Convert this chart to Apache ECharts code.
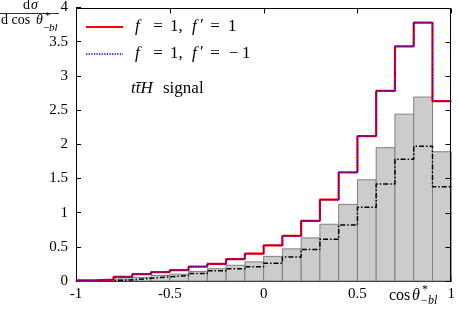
<!DOCTYPE html>
<html>
<head>
<meta charset="utf-8">
<script src="https://cdn.jsdelivr.net/npm/echarts@6/dist/echarts.min.js"></script>
<style>
html,body{margin:0;padding:0;background:#fff;}
#c{width:458px;height:309px;}
</style>
</head>
<body>
<div id="c"></div>
<script>
// bin edges of cos(theta*_{-bl})
const binEdges = [-1.0,-0.9,-0.8,-0.7,-0.6,-0.5,-0.4,-0.3,-0.2,-0.1,0.0,0.1,0.2,0.3,0.4,0.5,0.6,0.7,0.8,0.9,1.0];
// f=1, f'=1 (red solid)
const redVals  = [0.01,0.02,0.06,0.10,0.13,0.16,0.21,0.25,0.32,0.40,0.52,0.66,0.88,1.19,1.59,2.12,2.78,3.43,3.78,2.63];
// f=1, f'=-1 (blue dotted)
const blueVals = [0.01,0.02,0.06,0.10,0.13,0.16,0.21,0.25,0.32,0.40,0.52,0.66,0.88,1.19,1.59,2.12,2.78,3.43,3.78,2.63];
// grey filled histogram
const greyVals = [0.005,0.01,0.03,0.05,0.08,0.10,0.14,0.18,0.23,0.28,0.36,0.47,0.63,0.83,1.12,1.48,1.95,2.44,2.69,1.89];
// black dash-dot histogram
const blackVals = [0.003,0.008,0.015,0.04,0.06,0.08,0.11,0.15,0.18,0.21,0.26,0.35,0.46,0.61,0.82,1.08,1.42,1.78,1.97,1.38];
// tick values
const xTicks = [-1,-0.5,0,0.5,1];
const yTicks = [0,0.5,1,1.5,2,2.5,3,3.5,4];

const FONT = 'Liberation Serif';

function stepData(vals){
  return binEdges.map((e,i)=>[e, vals[Math.min(i, vals.length-1)]]);
}
const barData = greyVals.map((v,i)=>[binEdges[i], binEdges[i+1], v]);

const chart = echarts.init(document.getElementById('c'), null, {renderer:'canvas'});

function tick(){ return {show:true, inside:true, length:5, lineStyle:{color:'#000', width:1}}; }
function aline(){ return {show:true, onZero:false, lineStyle:{color:'#000', width:1}}; }

function txt(x, y, s, size, italic, align){
  return {type:'text', x:x, y:y, z:20, style:{
    text:s, fill:'#000', align:align||'left', verticalAlign:'middle',
    font:(italic?'italic ':'')+size+'px "'+FONT+'"'}};
}

const legendParts = [];
function legendLine(y, last){
  legendParts.push(txt(135, y, 'f', 17, true));
  legendParts.push(txt(158, y, '=', 17, false, 'center'));
  legendParts.push(txt(170, y, '1,', 17, false));
  legendParts.push(txt(192, y, 'f', 17, true));
  legendParts.push(txt(200, y-1, '′', 17, false));
  legendParts.push(txt(215, y, '=', 17, false, 'center'));
  if (last === '1') {
    legendParts.push(txt(228, y, '1', 17, false));
  } else {
    legendParts.push(txt(233.5, y, '−', 17, false, 'center'));
    legendParts.push(txt(242, y, '1', 17, false));
  }
}
legendLine(27, '1');
legendLine(54, '-1');

chart.setOption({
  animation:false,
  backgroundColor:'#fff',
  grid:{left:76, top:7, right:5, bottom:28, containLabel:false},
  xAxis:[
    {type:'value', position:'bottom', min:-1, max:1, interval:0.5,
     axisLine:aline(), axisTick:tick(), splitLine:{show:false},
     axisLabel:{color:'#000', fontFamily:FONT, fontSize:15, margin:6,
       formatter:v=>String(v)}}
  ],
  yAxis:[
    {type:'value', position:'left', min:0, max:4, interval:0.5,
     axisLine:aline(), axisTick:tick(), splitLine:{show:false},
     axisLabel:{color:'#000', fontFamily:FONT, fontSize:15, margin:8}}
  ],
  series:[
    {type:'custom', name:'grey', data:barData,
     renderItem:function(params, api){
       const p0 = api.coord([api.value(0), api.value(2)]);
       const p1 = api.coord([api.value(1), 0]);
       return {type:'rect',
         shape:{x:p0[0], y:p0[1], width:p1[0]-p0[0], height:p1[1]-p0[1]},
         style:{fill:'#cccccc', stroke:'#808080', lineWidth:1}};
     }, z:1},
    {type:'line', name:'black', step:'end', data:stepData(blackVals), symbol:'none',
     lineStyle:{color:'#000', width:1.5, type:[5,2,1.5,2]}, z:3},
    {type:'line', name:'red', step:'end', data:stepData(redVals), symbol:'none',
     lineStyle:{color:'#ff0000', width:2.2}, z:4},
    {type:'line', name:'blue', step:'end', data:stepData(blueVals), symbol:'none',
     lineStyle:{color:'#0000ff', width:1.3, type:[1.3,1.3]}, z:5}
  ]
});

// frame (top and right edges with inward ticks), placed through the axis scales
const frameParts = [];
try {
  const pTL = chart.convertToPixel({gridIndex:0}, [-1, 4]);
  const pBR = chart.convertToPixel({gridIndex:0}, [1, 0]);
  const frameTop = Math.round(pTL[1]) + 0.5;
  const frameRight = Math.round(pBR[0]) - 0.5;
  frameParts.push({type:'line', shape:{x1:pTL[0], y1:frameTop, x2:frameRight, y2:frameTop}, style:{stroke:'#000', lineWidth:1}, z:30});
  frameParts.push({type:'line', shape:{x1:frameRight, y1:frameTop, x2:frameRight, y2:pBR[1]}, style:{stroke:'#000', lineWidth:1}, z:30});
  xTicks.forEach(v=>{
    const px = Math.round(chart.convertToPixel({xAxisIndex:0}, v)) + 0.5;
    frameParts.push({type:'line', shape:{x1:px, y1:frameTop, x2:px, y2:frameTop+5}, style:{stroke:'#000', lineWidth:1}, z:30});
  });
  yTicks.forEach(v=>{
    const py = Math.round(chart.convertToPixel({yAxisIndex:0}, v)) + 0.5;
    frameParts.push({type:'line', shape:{x1:frameRight-5, y1:py, x2:frameRight, y2:py}, style:{stroke:'#000', lineWidth:1}, z:30});
  });
} catch (e) {}

chart.setOption({
  graphic:[
    ...frameParts,
    // legend samples
    {type:'line', shape:{x1:86, y1:27, x2:123, y2:27}, style:{stroke:'#ff0000', lineWidth:2.2}, z:10},
    {type:'line', shape:{x1:86, y1:54, x2:123, y2:54}, style:{stroke:'#0000ff', lineWidth:1.3, lineDash:[1.3,1.3]}, z:10},
    ...legendParts,
    txt(131, 89, 'tt\u0304H', 17, true),
    txt(163, 89, 'signal', 17, false),
    // y-axis label (fraction)
    txt(23, 5, 'd', 14, false),
    txt(31, 5, 'σ', 14, true),
    {type:'line', shape:{x1:0, y1:13.5, x2:59, y2:13.5}, style:{stroke:'#000', lineWidth:0.8}, z:10},
    txt(1, 20, 'd cos', 14, false),
    txt(36, 20, 'θ', 14, true),
    txt(45, 16, '*', 11, false),
    txt(43, 28, '−', 11, false),
    txt(49, 28, 'bl', 11, true),
    // x-axis label
    txt(389, 296, 'cos', 16, false),
    txt(412, 296, 'θ', 16, true),
    txt(422, 290, '*', 12, false),
    txt(421, 301, '−', 12, false),
    txt(428, 301, 'bl', 12, true)
  ]
});
</script>
</body>
</html>
